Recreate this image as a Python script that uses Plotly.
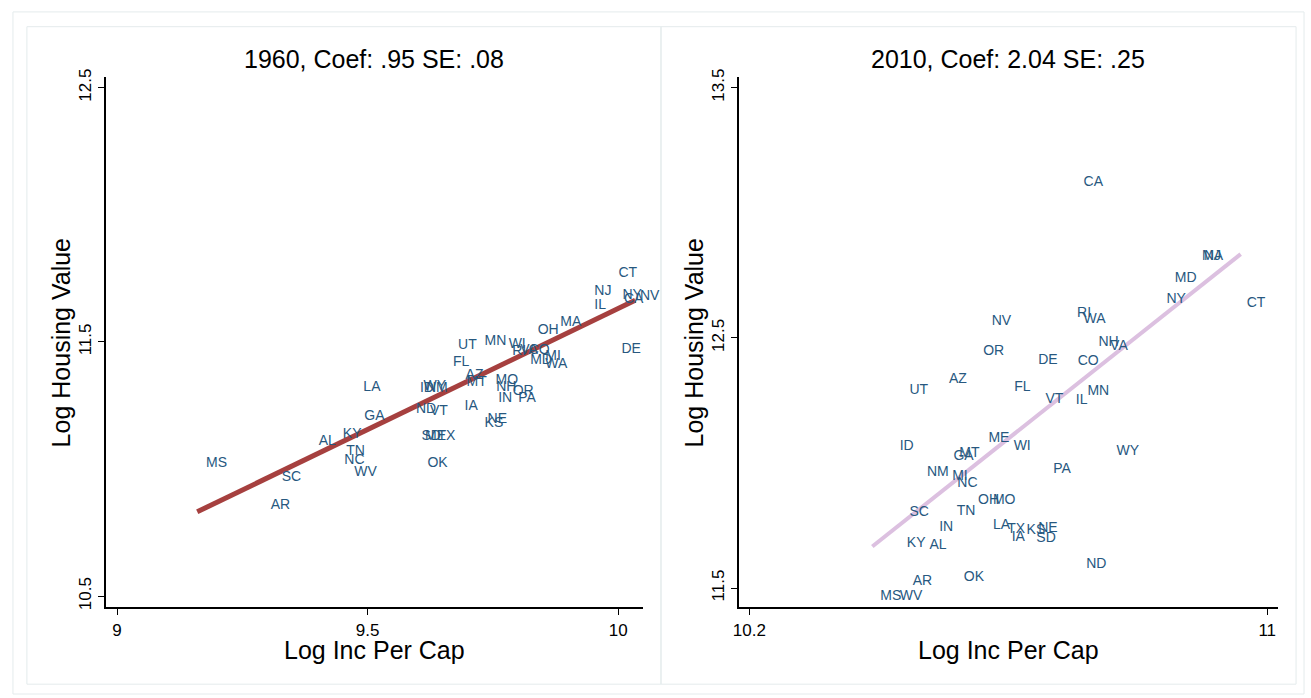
import plotly.graph_objects as go

W, H = 1311, 698

# ---------------- data: 1960 ----------------
states_1960 = ["CT","NJ","NY","CA","NV","IL","MA","OH","DE","UT","MN","WI","RI","VA","CO",
               "MD","MI","WA","FL","AZ","MT","MO","NH","OR","IN","PA","IA","NE","KS","LA",
               "ID","WY","NM","ND","VT","GA","SD","ME","TX","KY","AL","TN","NC","WV","OK",
               "MS","SC","AR"]
inc_1960 = [9.991,9.943,9.999,10.002,10.034,9.943,9.875,9.830,9.997,9.671,9.724,9.772,9.779,9.795,9.812,
            9.815,9.845,9.845,9.661,9.686,9.688,9.746,9.747,9.780,9.751,9.791,9.684,9.730,9.724,9.482,
            9.595,9.602,9.607,9.587,9.615,9.484,9.598,9.605,9.630,9.441,9.393,9.448,9.444,9.464,9.610,
            9.168,9.319,9.297]
house_1960 = [11.769,11.698,11.682,11.668,11.678,11.642,11.578,11.547,11.469,11.487,11.502,11.491,11.462,11.466,11.466,
              11.429,11.442,11.410,11.420,11.369,11.340,11.347,11.320,11.307,11.278,11.276,11.246,11.195,11.181,11.321,
              11.317,11.323,11.317,11.233,11.227,11.205,11.130,11.130,11.130,11.136,11.107,11.069,11.033,10.986,11.023,
              11.023,10.968,10.855]
fit_x_1960 = [9.160, 10.034]
fit_y_1960 = [10.832, 11.664]

# ---------------- data: 2010 ----------------
states_2010 = ["CA","MA","NJ","MD","NY","CT","RI","WA","NV","NH","VA","OR","DE","CO","AZ","UT",
               "FL","VT","IL","MN","ME","WI","WY","ID","GA","MT","NM","MI","NC","PA","OH","MO",
               "SC","TN","LA","TX","IA","KS","NE","SD","IN","KY","AL","ND","OK","AR","MS","WV"]
inc_2010 = [10.709,10.892,10.895,10.850,10.837,10.961,10.699,10.709,10.567,10.732,10.750,10.554,10.639,10.700,10.501,10.440,
            10.602,10.650,10.697,10.715,10.562,10.601,10.760,10.425,10.508,10.517,10.467,10.506,10.514,10.662,10.546,10.569,
            10.440,10.513,10.569,10.591,10.598,10.621,10.639,10.636,10.486,10.436,10.471,10.713,10.524,10.445,10.395,10.425]
house_2010 = [13.121,12.826,12.826,12.736,12.654,12.638,12.599,12.575,12.567,12.481,12.464,12.445,12.409,12.405,12.334,12.288,
              12.301,12.254,12.249,12.284,12.098,12.065,12.044,12.065,12.024,12.037,11.963,11.946,11.919,11.973,11.851,11.851,
              11.803,11.805,11.749,11.733,11.703,11.729,11.736,11.697,11.740,11.678,11.668,11.596,11.541,11.526,11.467,11.467]
fit_x_2010 = [10.390, 10.959]
fit_y_2010 = [11.666, 12.835]

titles = ["1960, Coef: .95 SE: .08", "2010, Coef: 2.04 SE: .25"]
x_title = "Log Inc Per Cap"
y_title = "Log Housing Value"
x_ticks_1960 = [9, 9.5, 10]
x_ticklabels_1960 = ["9", "9.5", "10"]
y_ticks_1960 = [10.5, 11.5, 12.5]
y_ticklabels_1960 = ["10.5", "11.5", "12.5"]
x_ticks_2010 = [10.2, 11]
x_ticklabels_2010 = ["10.2", "11"]
y_ticks_2010 = [11.5, 12.5, 13.5]
y_ticklabels_2010 = ["11.5", "12.5", "13.5"]

# ---------------- styling ----------------
FONT = "Liberation Sans, Arial, Helvetica, sans-serif"
LABEL_COLOR = "#27587f"
LINE1 = "#a6403f"
LINE2 = "#dcc0e0"
FRAME = "#e4ebec"

def px_x(p):
    return p / W

def px_y(p):
    return (H - p) / H

# plot areas in pixels
L1, R1 = 100, 640
L2, R2 = 736, 1278
TOP, BOT = 70, 609

fig = go.Figure()

fig.add_trace(go.Scatter(x=fit_x_1960, y=fit_y_1960, mode="lines",
                         line=dict(color=LINE1, width=5), xaxis="x", yaxis="y",
                         hoverinfo="skip", showlegend=False))
fig.add_trace(go.Scatter(x=inc_1960, y=house_1960, text=states_1960, mode="markers+text",
                         textposition="middle right", cliponaxis=False,
                         marker=dict(size=6, opacity=0),
                         textfont=dict(family=FONT, size=14, color=LABEL_COLOR),
                         xaxis="x", yaxis="y", showlegend=False))

fig.add_trace(go.Scatter(x=fit_x_2010, y=fit_y_2010, mode="lines",
                         line=dict(color=LINE2, width=4), xaxis="x2", yaxis="y2",
                         hoverinfo="skip", showlegend=False))
fig.add_trace(go.Scatter(x=inc_2010, y=house_2010, text=states_2010, mode="markers+text",
                         textposition="middle right", cliponaxis=False,
                         marker=dict(size=6, opacity=0),
                         textfont=dict(family=FONT, size=14, color=LABEL_COLOR),
                         xaxis="x2", yaxis="y2", showlegend=False))

axis_common = dict(showline=True, linecolor="black", linewidth=1.5, ticks="outside",
                   ticklen=6, tickwidth=1.2, tickcolor="black", showgrid=False,
                   zeroline=False, mirror=False,
                   tickfont=dict(family=FONT, size=17, color="black"))

fig.update_layout(
    width=W, height=H,
    margin=dict(l=0, r=0, t=0, b=0),
    paper_bgcolor="white", plot_bgcolor="white",
    showlegend=False,
    font=dict(family=FONT, color="black"),
    xaxis=dict(domain=[px_x(L1), px_x(R1)], range=[8.977, 10.0497], anchor="y",
               tickvals=x_ticks_1960, ticktext=x_ticklabels_1960, **axis_common),
    yaxis=dict(domain=[px_y(BOT), px_y(TOP)], range=[10.456, 12.5426], anchor="x",
               tickvals=y_ticks_1960, ticktext=y_ticklabels_1960, tickangle=-90, **axis_common),
    xaxis2=dict(domain=[px_x(L2), px_x(R2)], range=[10.1835, 11.0169], anchor="y2",
                tickvals=x_ticks_2010, ticktext=x_ticklabels_2010, **axis_common),
    yaxis2=dict(domain=[px_y(BOT), px_y(TOP)], range=[11.4225, 13.5433], anchor="x2",
                tickvals=y_ticks_2010, ticktext=y_ticklabels_2010, tickangle=-90, **axis_common),
)

# frames (graph regions)
shapes = [
    dict(type="rect", xref="paper", yref="paper", x0=px_x(7), x1=px_x(1304), y0=px_y(697), y1=px_y(4),
         line=dict(color=FRAME, width=1), layer="below"),
    dict(type="rect", xref="paper", yref="paper", x0=px_x(21), x1=px_x(658), y0=px_y(687), y1=px_y(19),
         line=dict(color=FRAME, width=1), layer="below"),
    dict(type="rect", xref="paper", yref="paper", x0=px_x(658), x1=px_x(1296), y0=px_y(687), y1=px_y(19),
         line=dict(color=FRAME, width=1), layer="below"),
]
fig.update_layout(shapes=shapes)

annotations = []
for title, cx in zip(titles, [(L1 + R1) / 2, (L2 + R2) / 2]):
    annotations.append(dict(text=title, x=px_x(cx), y=px_y(52), xref="paper", yref="paper",
                            showarrow=False, xanchor="center", yanchor="middle",
                            font=dict(family=FONT, size=25, color="black")))
    annotations.append(dict(text=x_title, x=px_x(cx), y=px_y(652), xref="paper", yref="paper",
                            showarrow=False, xanchor="center", yanchor="middle",
                            font=dict(family=FONT, size=25, color="black")))
for lx in [55, 691]:
    annotations.append(dict(text=y_title, x=px_x(lx), y=px_y(340), xref="paper", yref="paper",
                            showarrow=False, xanchor="center", yanchor="middle", textangle=-90,
                            font=dict(family=FONT, size=25, color="black")))
fig.update_layout(annotations=annotations)

fig.write_html("out.html")
